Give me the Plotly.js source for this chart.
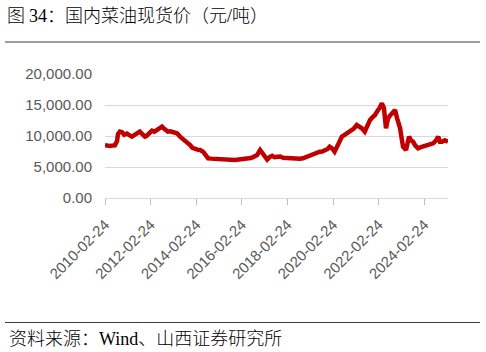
<!DOCTYPE html>
<html>
<head>
<meta charset="utf-8">
<script src="https://cdn.plot.ly/plotly-3.0.1.min.js"></script>
<style>html,body{margin:0;padding:0;background:#fff;}#chart{width:486px;height:352px;}</style>
</head>
<body>
<div id="chart"></div>
<script>
const dates = [
"2010-02-24","2010-04-10","2010-05-15","2010-06-20","2010-08-01","2010-09-05","2010-09-20","2010-10-20","2010-11-25","2010-12-28",
"2011-02-10","2011-03-20","2011-05-01","2011-06-01","2011-07-05","2011-08-05","2011-09-05","2011-10-15","2011-11-25","2011-12-20",
"2012-01-15","2012-02-15","2012-03-18","2012-04-25","2012-06-05","2012-07-15","2012-08-25","2012-09-15","2012-10-12","2012-11-28",
"2013-01-05","2013-02-18","2013-04-22","2013-06-10","2013-07-20","2013-08-28","2013-10-10","2013-11-18","2013-12-25","2014-02-06",
"2014-03-15","2014-04-27","2014-06-13","2014-07-20","2014-09-02","2014-10-15","2014-12-05","2015-01-20","2015-03-10","2015-05-10",
"2015-07-16","2015-09-10","2015-11-06","2016-01-05","2016-02-28","2016-04-15","2016-06-02","2016-07-15","2016-08-22","2016-10-26",
"2016-12-13","2017-01-30","2017-03-01","2017-04-05","2017-05-15","2017-06-24","2017-08-01","2017-09-12","2017-11-01","2017-12-16",
"2018-02-10","2018-04-05","2018-05-20","2018-07-26","2018-09-10","2018-10-30","2018-12-20","2019-02-20","2019-04-01","2019-05-12",
"2019-07-27","2019-09-01","2019-10-15","2019-12-01","2020-01-01","2020-02-10","2020-03-20","2020-05-08","2020-06-15","2020-07-16",
"2020-08-15","2020-09-16","2020-10-20","2020-11-20","2020-12-20","2021-01-22","2021-03-10","2021-04-20","2021-05-30","2021-07-16",
"2021-08-18","2021-09-15","2021-10-08","2021-11-15","2021-12-28","2022-02-14","2022-03-10","2022-04-16","2022-05-19","2022-06-21",
"2022-07-05","2022-07-24","2022-08-25","2022-09-27","2022-11-13","2022-12-16","2023-01-10","2023-02-02","2023-03-01","2023-03-21",
"2023-05-08","2023-06-25","2023-07-25","2023-08-29","2023-10-01","2023-11-17","2024-01-01","2024-02-06","2024-03-20","2024-04-27",
"2024-06-01","2024-07-16","2024-09-01","2024-10-04","2024-11-01","2024-12-05","2025-01-20","2025-03-10"
];
const price = [
8500,8350,8400,8450,8500,9200,10300,10700,10600,10200,
10400,10150,9900,10100,10300,10500,10700,10300,9900,10000,
10200,10500,10850,10700,11000,11200,11500,11300,11000,10700,
10750,10600,10450,9900,9600,9200,8900,8550,8100,7900,
7800,7740,7470,7000,6400,6350,6300,6250,6290,6200,
6200,6150,6130,6200,6250,6300,6400,6450,6600,6940,
7740,7000,6700,6200,6600,6820,6600,6660,6700,6500,
6450,6400,6500,6450,6350,6400,6600,6940,7100,7200,
7470,7500,7700,7900,8270,8000,7470,8500,9200,9900,
10100,10300,10500,10700,11000,11200,11770,11600,11240,10700,
11500,12200,12580,13000,13390,14200,14500,15270,14500,11240,
12600,12850,13300,13660,14200,12850,11900,11240,9500,8270,
7740,9900,9300,9080,8500,8010,8200,8270,8400,8550,
8700,8820,9300,9900,9080,9080,9300,9080
];
const tickVals = ["2010-02-24","2012-02-24","2014-02-24","2016-02-24","2018-02-24","2020-02-24","2022-02-24","2024-02-24"];
const tickText = ["2010-02-24","2012-02-24","2014-02-24","2016-02-24","2018-02-24","2020-02-24","2022-02-24","2024-02-24"];
const yTicks = [0,5000,10000,15000,20000];
const yTickText = ["0.00","5,000.00","10,000.00","15,000.00","20,000.00"];

const trace = {
  x: dates, y: price, type: "scatter", mode: "lines",
  line: {color: "#C00000", width: 4.5}, hoverinfo: "skip"
};
const cjk = "Noto Sans CJK SC, sans-serif";
const serif = "font-family:'Liberation Serif',serif";
const layout = {
  width: 486, height: 352,
  margin: {l: 105, r: 38, t: 74, b: 154},
  paper_bgcolor: "#fff", plot_bgcolor: "#fff",
  showlegend: false,
  title: {text: "图 <span style=\"" + serif + "\">34</span>：国内菜油现货价（元<span style=\"" + serif + "\">/</span>吨）",
          x: 7/486, xanchor: "left", xref: "container",
          y: 1 - 16/352, yanchor: "middle", yref: "container",
          font: {family: cjk, size: 18, color: "#000", weight: 300}},
  xaxis: {
    type: "date", range: ["2010-02-24", "2025-03-10"],
    tickvals: tickVals, ticktext: tickText, tickangle: -45,
    ticks: "outside", ticklen: 6, tickcolor: "#BFBFBF", ticklabelstandoff: 5,
    showline: true, linecolor: "#D9D9D9", linewidth: 1,
    showgrid: false, zeroline: false,
    tickfont: {family: "Liberation Sans, Arial, sans-serif", size: 15, color: "#595959"}
  },
  yaxis: {
    range: [0, 20000], tickvals: yTicks, ticktext: yTickText,
    showgrid: true, gridcolor: "#D9D9D9", gridwidth: 1,
    zeroline: false, showline: false, ticks: "", ticklabelstandoff: 12,
    tickfont: {family: "Liberation Sans, Arial, sans-serif", size: 15, color: "#595959"}
  },
  shapes: [
    {type: "line", xref: "paper", yref: "paper", x0: (5-105)/343, x1: (480-105)/343,
     y0: (198-42)/124, y1: (198-42)/124, line: {color: "#404040", width: 1}},
    {type: "line", xref: "paper", yref: "paper", x0: (5-105)/343, x1: (480-105)/343,
     y0: (198-322.5)/124, y1: (198-322.5)/124, line: {color: "#404040", width: 1}}
  ],
  annotations: [
    {text: "资料来源：<span style=\"" + serif + "\">Wind</span>、山西证券研究所", xref: "paper", yref: "paper",
     x: (7-105)/343, xanchor: "left", y: (198-337)/124, yanchor: "middle",
     showarrow: false, font: {family: cjk, size: 18, color: "#000", weight: 300}}
  ]
};
Plotly.newPlot("chart", [trace], layout, {staticPlot: true, displayModeBar: false});
</script>
</body>
</html>
